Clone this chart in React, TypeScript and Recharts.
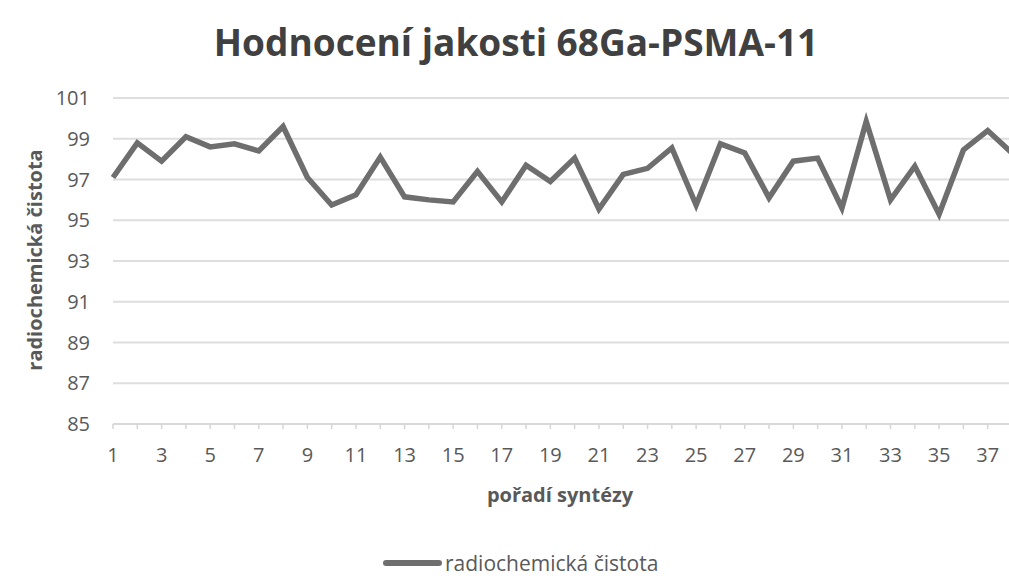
import React from 'react';
import { LineChart, Line, XAxis, YAxis, CartesianGrid } from 'recharts';

const categories = [
  1, 2, 3, 4, 5, 6, 7, 8, 9, 10, 11, 12, 13, 14, 15, 16, 17, 18, 19,
  20, 21, 22, 23, 24, 25, 26, 27, 28, 29, 30, 31, 32, 33, 34, 35, 36, 37, 38,
];
const purity = [
  97.1, 98.8, 97.9, 99.1, 98.6, 98.75, 98.4, 99.6, 97.1, 95.75, 96.25, 98.1, 96.15,
  96.0, 95.9, 97.4, 95.9, 97.7, 96.9, 98.05, 95.55, 97.25, 97.55, 98.55, 95.75,
  98.75, 98.3, 96.1, 97.9, 98.05, 95.6, 99.85, 96.0, 97.65, 95.3, 98.45, 99.4, 98.3,
];
const yTicks = [85, 87, 89, 91, 93, 95, 97, 99, 101];
const title = 'Hodnocení jakosti 68Ga-PSMA-11';
const xTitle = 'pořadí syntézy';
const yTitle = 'radiochemická čistota';
const seriesName = 'radiochemická čistota';

const data = categories.map((c, i) => ({ n: c, v: purity[i] }));

const FONT = '"Open Sans", sans-serif';
const LINE = '#6e6e6e';
const TEXT = '#595959';

export default function App() {
  return (
    <div
      style={{
        position: 'fixed',
        left: 0,
        top: 0,
        width: 1009,
        height: 576,
        overflow: 'hidden',
        background: '#ffffff',
        fontFamily: FONT,
      }}
    >
      <div
        style={{
          position: 'absolute',
          left: 0,
          width: 1032,
          top: 17,
          textAlign: 'center',
          fontSize: 37,
          fontWeight: 700,
          color: '#404040',
          lineHeight: '50px',
        }}
      >
        {title}
      </div>
      <div style={{ position: 'absolute', left: 0, top: 0 }}>
        <LineChart
          width={1020}
          height={576}
          data={data}
          margin={{ top: 98, right: 8, left: 0, bottom: 112 }}
        >
          <CartesianGrid vertical={false} stroke="#dedede" strokeWidth={2} />
          <XAxis
            dataKey="n"
            height={40}
            interval={0}
            tickFormatter={(v: number) => (v % 2 === 1 ? String(v) : '')}
            tick={{ fill: TEXT, fontSize: 20, fontFamily: FONT }}
            tickSize={5}
            tickMargin={19}
            tickLine={{ stroke: '#d6d6d6', strokeWidth: 1.5 }}
            axisLine={{ stroke: '#d9d9d9', strokeWidth: 2 }}
          />
          <YAxis
            width={113}
            domain={[85, 101]}
            ticks={yTicks}
            interval={0}
            tickLine={false}
            axisLine={false}
            tickMargin={17}
            tick={{ fill: TEXT, fontSize: 20, fontFamily: FONT }}
          />
          <Line
            type="linear"
            dataKey="v"
            stroke={LINE}
            strokeWidth={5.5}
            dot={false}
            isAnimationActive={false}
            strokeLinejoin="miter"
          />
        </LineChart>
      </div>
      <div
        style={{
          position: 'absolute',
          left: 410,
          width: 300,
          top: 480,
          textAlign: 'center',
          fontSize: 20,
          fontWeight: 700,
          color: TEXT,
          lineHeight: '30px',
        }}
      >
        {xTitle}
      </div>
      <div
        style={{
          position: 'absolute',
          left: 35 - 150,
          width: 300,
          top: 260 - 15,
          textAlign: 'center',
          fontSize: 20,
          fontWeight: 700,
          color: TEXT,
          lineHeight: '30px',
          transform: 'rotate(-90deg)',
        }}
      >
        {yTitle}
      </div>
      <div
        style={{
          position: 'absolute',
          left: 383,
          top: 550,
          height: 26,
          display: 'flex',
          alignItems: 'center',
          fontSize: 21,
          lineHeight: '26px',
          color: TEXT,
        }}
      >
        <span
          style={{
            display: 'inline-block',
            width: 59,
            height: 6,
            background: LINE,
            marginRight: 3,
            borderRadius: 3,
          }}
        />
        <span style={{ lineHeight: '26px' }}>{seriesName}</span>
      </div>
    </div>
  );
}
